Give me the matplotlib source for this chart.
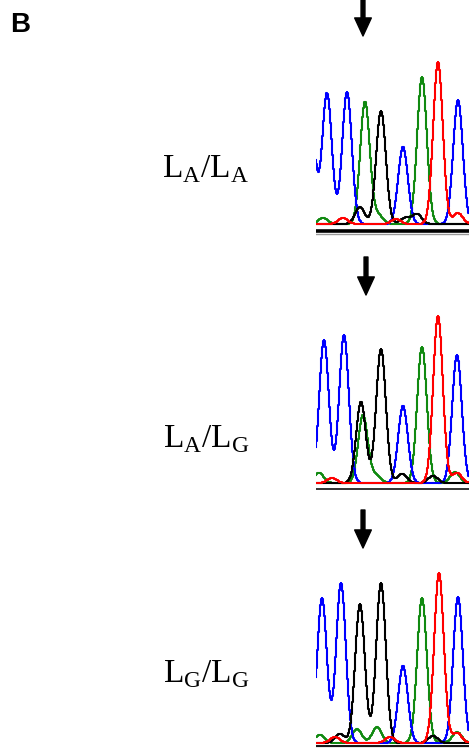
import numpy as np
import matplotlib.pyplot as plt

plt.rcParams['font.family'] = ['Liberation Serif', 'DejaVu Serif']
plt.rcParams['mathtext.fontset'] = 'custom'
plt.rcParams['mathtext.rm'] = 'Liberation Serif'

# Genotype labels
genotypes = ['L$_\\mathrm{A}$/L$_\\mathrm{A}$',
             'L$_\\mathrm{A}$/L$_\\mathrm{G}$',
             'L$_\\mathrm{G}$/L$_\\mathrm{G}$']

# Peaks per trace: (scan position, signal height)
peaks_AA = {
    'green': [(7, 6), (49, 122), (62, 9), (106, 147)],
    'blue':  [(-6, 120), (11, 131), (31, 132), (87, 77), (142, 124)],
    'black': [(44, 17), (65, 113), (89, 6), (101, 10)],
    'red':   [(27, 6), (80, 5), (122, 162), (142, 11)],
}
peaks_AG = {
    'green': [(3, 10), (47, 68), (60, 8), (106, 136), (139, 11)],
    'blue':  [(8, 143), (28, 148), (87, 77), (141, 128)],
    'black': [(45, 81), (65, 134), (86, 9), (117, 7)],
    'red':   [(16, 5), (122, 167), (141, 10)],
}
peaks_GG = {
    'green': [(4, 8), (41, 14), (61, 16), (106, 145), (141, 11)],
    'blue':  [(6, 145), (25, 160), (87, 77), (142, 146)],
    'black': [(24, 9), (44, 139), (65, 160), (117, 7)],
    'red':   [(19, 6), (74, 6), (123, 170), (141, 10)],
}
panels = [peaks_AA, peaks_AG, peaks_GG]

colors = {'green': '#118a11', 'blue': '#0000ff', 'black': '#000000', 'red': '#ff0000'}
order = ['green', 'blue', 'black', 'red']

W, H = 470, 748
fig = plt.figure(figsize=(W / 100, H / 100), dpi=100)

# overlay axes in pixel units for labels and arrows
over = fig.add_axes([0, 0, 1, 1])
over.set_xlim(0, W)
over.set_ylim(H, 0)
over.axis('off')

baselines = [224, 483, 743]
arrow_x = [363, 366, 363]
arrow_top = [0, 257, 510]
arrow_tip = [36, 295, 548]
label_y = [177, 447, 682]
bars = [[(-7, 2.6, 'black'), (-9.5, 1.0, '#999999')],
        [(-6, 1.4, '#333333')],
        [(-2.5, 1.3, 'black'), (-4.5, 1.0, '#888888')]]

x = np.arange(0, 153, 0.5)
sig = 4.8
for peaks, base, bar in zip(panels, baselines, bars):
    bottom = base + 12
    top = base - 185
    ax = fig.add_axes([316 / W, 1 - bottom / H, 153 / W, (bottom - top) / H])
    for ch in order:
        y = np.zeros_like(x)
        for c, h in peaks[ch]:
            y += h * np.exp(-(x - c) ** 2 / (2 * sig ** 2))
        ax.plot(x, y, color=colors[ch], lw=1.5, drawstyle='steps-mid')
    for yb, lw, col in bar:
        ax.axhline(yb, color=col, lw=lw)
    ax.set_xlim(0, 153)
    ax.set_ylim(-12, 185)
    ax.axis('off')

for lab, ly in zip(genotypes, label_y):
    over.text(206, ly, lab, fontsize=24, ha='center', va='baseline')

for ax_x, t0, t1 in zip(arrow_x, arrow_top, arrow_tip):
    over.annotate('', xy=(ax_x, t1), xytext=(ax_x, t0),
                  arrowprops=dict(width=2.8, headwidth=12, headlength=13,
                                  facecolor='black', edgecolor='black', shrink=0))

over.text(10, 32, 'B', fontsize=20, fontweight='bold', family='Liberation Sans',
          ha='left', va='baseline')

fig.savefig('out.png', dpi=100)
